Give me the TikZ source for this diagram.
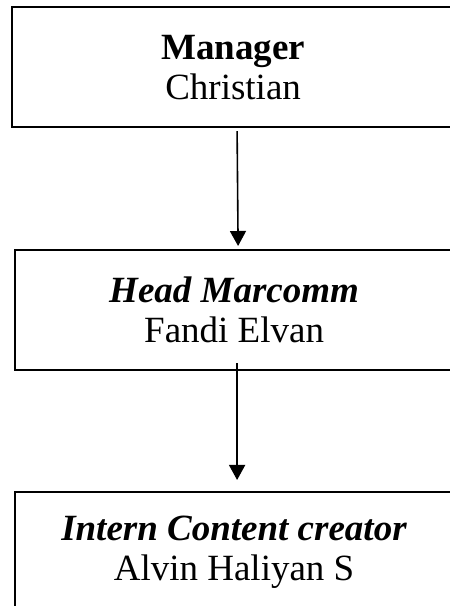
\documentclass[tikz,border=0pt]{standalone}
\usepackage{fontspec}
\setmainfont{Liberation Serif}
\usetikzlibrary{arrows.meta}
\tikzset{%
  tipT/.tip={Triangle[width=16pt,length=15pt]},
  orgbox/.style={draw, line width=2.2pt, minimum width=438pt, minimum height=120pt,
    inner sep=0pt, align=center, anchor=north west,
    font=\fontsize{37}{40}\selectfont},
  orgline/.style={line width=1.6pt, -tipT}
}

\begin{document}
\begin{tikzpicture}[x=1pt,y=1pt]
\useasboundingbox (0,0) rectangle (450,606);
\node[orgbox, minimum width=442pt] (manager) at (11,600) {\textbf{Manager}\\Christian};
\node[orgbox] (head) at (14,357) {\textbf{\textit{Head Marcomm}}\\Fandi Elvan};
\node[orgbox] (intern) at (14,115) {\textbf{\textit{Intern Content creator}}\\Alvin Haliyan S};
\draw[orgline] ([xshift=4pt,yshift=-3pt]manager.south) -- ([xshift=4pt,yshift=3pt]head.north);
\draw[orgline] ([xshift=3pt,yshift=8pt]head.south) -- ([xshift=3pt,yshift=11pt]intern.north);
\end{tikzpicture}
\end{document}
